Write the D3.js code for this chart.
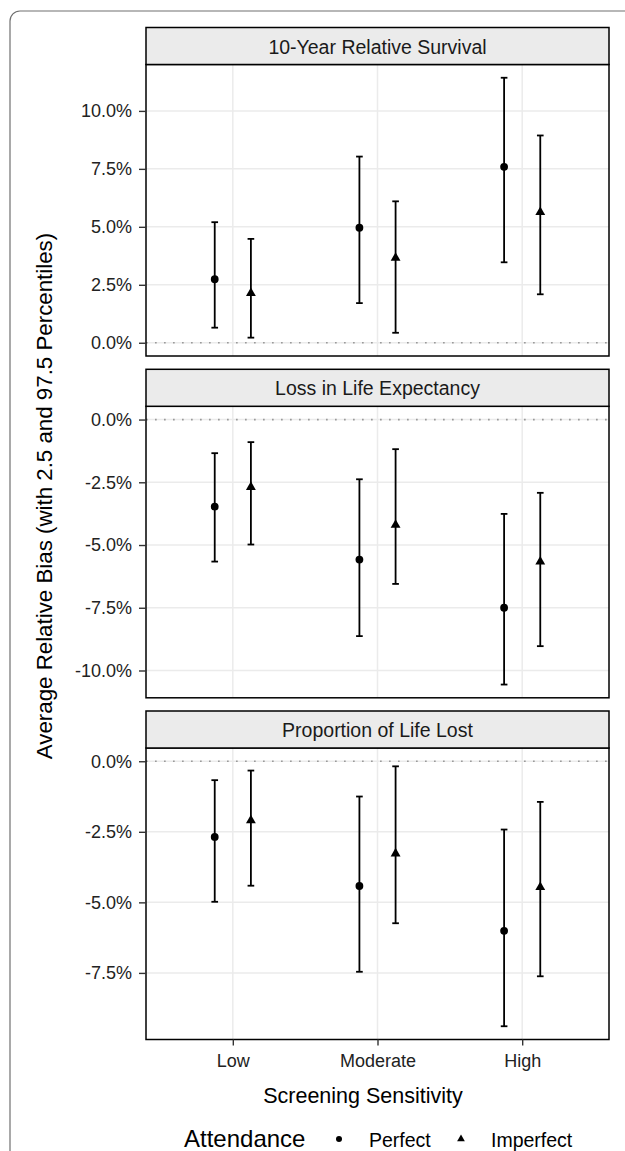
<!DOCTYPE html>
<html>
<head>
<meta charset="utf-8">
<script src="https://cdn.jsdelivr.net/npm/d3@7"></script>
<style>
  body { margin: 0; background: #fff; }
  svg { display: block; }
  text { font-family: "Liberation Sans", Arial, Helvetica, sans-serif; }
</style>
</head>
<body>
<svg id="chart" width="625" height="1151"></svg>
<script>
// ---------------- DATA ----------------
const categories = ["Low", "Moderate", "High"];
const attendance = ["Perfect", "Imperfect"];
const facetTitles = ["10-Year Relative Survival", "Loss in Life Expectancy", "Proportion of Life Lost"];

// 10-Year Relative Survival
const rsPerfectMean = [2.74, 4.96, 7.59];
const rsPerfectLo   = [0.65, 1.71, 3.47];
const rsPerfectHi   = [5.20, 8.03, 11.43];
const rsImperfMean  = [2.14, 3.66, 5.63];
const rsImperfLo    = [0.22, 0.43, 2.09];
const rsImperfHi    = [4.48, 6.10, 8.94];

// Loss in Life Expectancy
const llePerfectMean = [-3.47, -5.58, -7.50];
const llePerfectLo   = [-5.66, -8.63, -10.56];
const llePerfectHi   = [-1.34, -2.38, -3.76];
const lleImperfMean  = [-2.69, -4.20, -5.66];
const lleImperfLo    = [-4.98, -6.55, -9.03];
const lleImperfHi    = [-0.90, -1.18, -2.92];

// Proportion of Life Lost
const pllPerfectMean = [-2.68, -4.42, -6.01];
const pllPerfectLo   = [-4.98, -7.46, -9.39];
const pllPerfectHi   = [-0.67, -1.25, -2.42];
const pllImperfMean  = [-2.10, -3.27, -4.46];
const pllImperfLo    = [-4.41, -5.74, -7.62];
const pllImperfHi    = [-0.33, -0.18, -1.44];

// y tick values per facet
const rsTicks  = [0, 2.5, 5, 7.5, 10];
const lleTicks = [0, -2.5, -5, -7.5, -10];
const pllTicks = [0, -2.5, -5, -7.5];

const yTitle = "Average Relative Bias (with 2.5 and 97.5 Percentiles)";
const xTitle = "Screening Sensitivity";
const legendTitle = "Attendance";

// ---------------- BUILD ----------------
function rows(pm, pl, ph, im, il, ih) {
  const out = [];
  categories.forEach((c, i) => {
    out.push({cat: c, grp: "Perfect", mean: pm[i], lo: pl[i], hi: ph[i]});
    out.push({cat: c, grp: "Imperfect", mean: im[i], lo: il[i], hi: ih[i]});
  });
  return out;
}
const facets = [
  {title: facetTitles[0], ticks: rsTicks,  data: rows(rsPerfectMean, rsPerfectLo, rsPerfectHi, rsImperfMean, rsImperfLo, rsImperfHi)},
  {title: facetTitles[1], ticks: lleTicks, data: rows(llePerfectMean, llePerfectLo, llePerfectHi, lleImperfMean, lleImperfLo, lleImperfHi)},
  {title: facetTitles[2], ticks: pllTicks, data: rows(pllPerfectMean, pllPerfectLo, pllPerfectHi, pllImperfMean, pllImperfLo, pllImperfHi)}
];

const svg = d3.select("#chart");
svg.append("rect").attr("width", 625).attr("height", 1151).attr("fill", "#fff");

// outer rounded frame (extends past right/bottom edges)
svg.append("rect")
  .attr("x", 10).attr("y", 11).attr("width", 640).attr("height", 1170)
  .attr("rx", 10).attr("ry", 10)
  .attr("fill", "none").attr("stroke", "#707070").attr("stroke-width", 1.2);

const left = 146, right = 609;
const stripTops = [27.5, 369.3, 711];
const stripH = 37, plotH = 291.5;

const x = d3.scalePoint().domain(categories).range([left, right]).padding(0.6);
const step = x.step();
const dodge = d3.scalePoint().domain(attendance).range([-0.125 * step, 0.125 * step]);
const capHalf = 0.023 * step;

const fmt = v => (Math.abs(v) < 1e-9 ? 0 : v).toFixed(1) + "%";
const triangle = d3.symbol().type(d3.symbolTriangle).size(42)();
const circle = d3.symbol().type(d3.symbolCircle).size(Math.PI * 3.9 * 3.9)();

facets.forEach((f, fi) => {
  const sTop = stripTops[fi];
  const pTop = sTop + stripH;
  const pBot = pTop + plotH;
  const lo = d3.min(f.data, d => d.lo), hi = d3.max(f.data, d => d.hi);
  const dmin = Math.min(0, lo), dmax = Math.max(0, hi);
  const pad = 0.05 * (dmax - dmin);
  const y = d3.scaleLinear().domain([dmin - pad, dmax + pad]).range([pBot, pTop]);

  const g = svg.append("g");
  // grid
  g.selectAll(".hg").data(f.ticks).join("line")
    .attr("x1", left).attr("x2", right)
    .attr("y1", d => y(d)).attr("y2", d => y(d))
    .attr("stroke", "#ebebeb").attr("stroke-width", 1.5);
  g.selectAll(".vg").data(categories).join("line")
    .attr("x1", d => x(d)).attr("x2", d => x(d))
    .attr("y1", pTop).attr("y2", pBot)
    .attr("stroke", "#ebebeb").attr("stroke-width", 1.5);
  // zero reference line
  g.append("line")
    .attr("x1", left).attr("x2", right).attr("y1", y(0)).attr("y2", y(0))
    .attr("stroke", "#9a9a9a").attr("stroke-width", 1.7)
    .attr("stroke-dasharray", "1.7,7.3");

  // error bars
  const eb = g.selectAll(".eb").data(f.data).join("g")
    .attr("transform", d => `translate(${x(d.cat) + dodge(d.grp)},0)`);
  eb.append("line").attr("x1", 0).attr("x2", 0)
    .attr("y1", d => y(d.lo)).attr("y2", d => y(d.hi))
    .attr("stroke", "#000").attr("stroke-width", 1.8);
  eb.append("line").attr("x1", -capHalf).attr("x2", capHalf)
    .attr("y1", d => y(d.lo)).attr("y2", d => y(d.lo))
    .attr("stroke", "#000").attr("stroke-width", 1.8);
  eb.append("line").attr("x1", -capHalf).attr("x2", capHalf)
    .attr("y1", d => y(d.hi)).attr("y2", d => y(d.hi))
    .attr("stroke", "#000").attr("stroke-width", 1.8);
  eb.append("path")
    .attr("d", d => d.grp === "Perfect" ? circle : triangle)
    .attr("transform", d => `translate(0,${y(d.mean)})`)
    .attr("fill", "#000");

  // panel border
  g.append("rect").attr("x", left).attr("y", pTop).attr("width", right - left).attr("height", plotH)
    .attr("fill", "none").attr("stroke", "#000").attr("stroke-width", 1.5);
  // strip
  g.append("rect").attr("x", left).attr("y", sTop).attr("width", right - left).attr("height", stripH)
    .attr("fill", "#ebebeb").attr("stroke", "#000").attr("stroke-width", 1.5);
  g.append("text").attr("x", (left + right) / 2).attr("y", sTop + stripH / 2 + 0.5)
    .attr("text-anchor", "middle").attr("dominant-baseline", "central")
    .attr("font-size", 19.5).attr("fill", "#1a1a1a").text(f.title);

  // y axis
  const ya = svg.append("g").attr("transform", `translate(${left},0)`)
    .call(d3.axisLeft(y).tickValues(f.ticks).tickFormat(fmt).tickSize(7).tickPadding(7));
  ya.select(".domain").remove();
  ya.selectAll(".tick line").attr("stroke", "#333").attr("stroke-width", 1.4);
  ya.selectAll(".tick text").attr("font-size", 18).attr("fill", "#222")
    .style("font-family", "'Liberation Sans', Arial, Helvetica, sans-serif");

  if (fi === facets.length - 1) {
    const xa = svg.append("g").attr("transform", `translate(0,${pBot})`)
      .call(d3.axisBottom(x).tickSize(6).tickPadding(9));
    xa.select(".domain").remove();
    xa.selectAll(".tick line").attr("stroke", "#333").attr("stroke-width", 1.4);
    xa.selectAll(".tick text").attr("font-size", 18).attr("fill", "#222")
      .style("font-family", "'Liberation Sans', Arial, Helvetica, sans-serif");
  }
});

// axis titles
svg.append("text")
  .attr("transform", "translate(52,496) rotate(-90)")
  .attr("text-anchor", "middle").attr("font-size", 22.3).attr("fill", "#000")
  .text(yTitle);
svg.append("text")
  .attr("x", 363).attr("y", 1102.5)
  .attr("text-anchor", "middle").attr("font-size", 21.5).attr("fill", "#000")
  .text(xTitle);

// legend
const legBase = 1147;
const lg = svg.append("g");
lg.append("text").attr("x", 184).attr("y", legBase).attr("font-size", 24).attr("fill", "#000").text(legendTitle);
const legX = d3.scaleOrdinal().domain(attendance).range([339, 461]);
const legItems = lg.selectAll(".li").data(attendance).join("g");
legItems.append("path")
  .attr("d", d => d === "Perfect"
    ? d3.symbol().type(d3.symbolCircle).size(Math.PI * 3 * 3)()
    : d3.symbol().type(d3.symbolTriangle).size(26)())
  .attr("transform", d => `translate(${legX(d)},${legBase - 8})`)
  .attr("fill", "#000");
legItems.append("text")
  .attr("x", d => legX(d) + 30).attr("y", legBase)
  .attr("font-size", 19.5).attr("fill", "#000").text(d => d);
</script>
</body>
</html>
